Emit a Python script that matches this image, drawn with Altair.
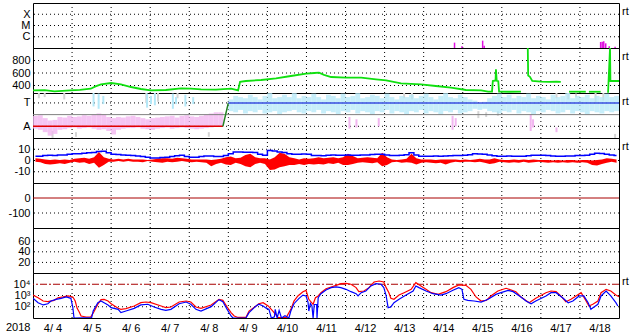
import json
import altair as alt
import pandas as pd

FONT = "Liberation Sans"
W, H = 586, 45
BIN = 0.125  # 3-hour bins, in days since 2018-04-04 00:00

DAY_LABELS = ["4/ 4", "4/ 5", "4/ 6", "4/ 7", "4/ 8", "4/ 9", "4/10", "4/11",
              "4/12", "4/13", "4/14", "4/15", "4/16", "4/17", "4/18"]
DAY_EDGES = list(range(1, 15))
YEAR = "2018"
TAG = "rt"

# ---- panel 1: X-ray class
XRAY_LEVELS = [1e-4, 1e-5, 1e-6]
XRAY_NAMES = ["X", "M", "C"]
XRAY_T = [10.79, 10.98, 11.51, 11.55, 14.53, 14.57, 14.61, 14.66, 14.75, 14.90]
XRAY_F = [3.0e-7, 1.4e-7, 4.5e-7, 1.6e-7, 3.4e-7, 3.6e-7, 4.0e-7, 2.6e-7, 1.4e-7, 1.3e-7]

# ---- panel 2: solar wind speed
SPEED_TICKS = [400, 600, 800]
SPEED_T = [0, 0.3, 0.55, 0.75, 0.95, 1.2, 1.48, 1.6, 1.74, 2.0, 2.25, 2.51, 2.76, 3.02, 3.4,
           3.79, 4.04, 4.3, 4.68, 5.07, 5.2, 5.25, 5.3, 5.45, 5.84, 6.22, 6.6, 6.99, 7.2, 7.32,
           7.45, 7.63, 8.01, 8.4, 8.78, 9.04, 9.42, 9.93, 10.31, 10.7, 11.08, 11.47, 11.65,
           11.75, 11.77, 11.84, 11.85, 11.87, 11.91, 11.93, 12.2, 12.49,
           12.665, 12.675, 12.72, 12.78, 13.0, 13.2, 13.4, 13.51,
           13.72, 14.15,
           14.23, 14.53,
           14.72, 14.77, 14.78, 15.0]
SPEED_V = [323, 325, 307, 315, 323, 330, 349, 385, 419, 440, 419, 376, 344, 323, 328,
           355, 350, 339, 333, 350, 330, 323, 460, 472, 488, 515, 552, 589, 600, 605,
           570, 536, 525, 525, 499, 483, 435, 419, 392, 365, 328, 323, 301,
           301, 472, 480, 659, 475, 470, 301, 300, 301,
           1000, 560, 540, 472, 461, 458, 461, 458,
           301, 301,
           300, 300,
           285, 1000, 472, 472]
SPEED_SEG = [0] * 52 + [1] * 8 + [2] * 2 + [3] * 2 + [4] * 4

# ---- panel 3: IMF sector
SECTOR_LEVELS = [3, 1]
SECTOR_NAMES = ["T", "A"]
MID_LEVEL = [2]
SECTOR_AWAY_T, SECTOR_AWAY_V = [0, 4.86], [1, 1]
SECTOR_TURN_T, SECTOR_TURN_V = [4.86, 5.0], [1, 3]
SECTOR_TOW_T, SECTOR_TOW_V = [5.0, 15], [3, 3]
PINK_LO = [0.80, 0.70, 0.50, 0.20, 0.35, 0.70, 0.75, 0.85, 0.90, 0.80, 0.85, 0.90, 0.80,
           0.70, 0.75, 0.60, 0.30, 0.70, 0.80, 0.85, 0.85, 0.90, 0.80, 0.75, 0.70, 0.80,
           0.85, 0.90, 0.80, 0.85, 0.90, 0.85, 0.80, 0.75, 0.80, 0.85, 0.90, 0.95, 1.00]
PINK_HI = [1.90, 1.95, 1.70, 1.50, 1.55, 1.80, 1.75, 1.90, 1.80, 1.85, 1.95, 1.90, 2.00,
           2.10, 2.00, 1.80, 1.70, 1.80, 1.75, 1.85, 1.90, 1.80, 1.70, 1.60, 1.70, 1.75,
           1.80, 1.85, 1.90, 1.75, 1.90, 1.95, 1.85, 1.80, 1.90, 2.00, 2.10, 2.20, 2.20]
CYAN_FIRST_BIN = 40
CYAN_LO = [2.3, 2.2, 2.4, 2.1, 2.3, 2.2, 2.4, 2.1, 2.2, 2.3, 2.0, 2.2, 2.3, 2.4, 2.2, 2.1,
           2.3, 2.2, 2.4, 2.1, 2.3, 2.2, 2.0, 2.3, 2.2, 2.4, 2.1, 2.3, 2.2, 2.0, 2.3, 2.2,
           2.4, 2.1, 2.3, 2.2, 2.0, 2.3, 2.2, 2.4, 2.1, 2.3, 2.2, 2.0, 2.3, 2.2, 2.4, 2.1,
           2.2, 2.3, 2.5, 2.4, 2.5, 2.3, 2.2, 2.1, 2.3, 2.2, 2.4, 2.1, 2.3, 2.2, 2.0, 2.3,
           2.2, 2.4, 2.3, 2.1, 2.2, 2.4, 2.1, 2.3, 2.2, 2.0, 2.3, 2.2, 2.1, 2.3, 2.2, 2.3]
CYAN_HI = [3.3, 3.6, 3.5, 3.4, 3.7, 3.5, 3.3, 3.6, 3.85, 3.4, 3.5, 3.7, 3.5, 3.85, 3.4, 3.6,
           3.5, 3.8, 3.5, 3.3, 3.7, 3.6, 3.4, 3.8, 3.5, 3.6, 3.85, 3.4, 3.5, 3.7, 3.6, 3.4,
           3.8, 3.5, 3.3, 3.6, 3.5, 3.7, 3.4, 3.6, 3.8, 3.5, 3.3, 3.6, 3.85, 3.5, 3.4, 3.7,
           3.5, 3.3, 3.2, 3.0, 3.1, 3.4, 3.6, 3.8, 3.5, 3.7, 3.4, 3.6, 3.5, 3.8, 3.4, 3.6,
           3.5, 3.3, 3.7, 3.5, 3.6, 3.85, 3.4, 3.6, 3.5, 3.7, 3.4, 3.6, 3.5, 3.8, 3.5, 3.6]
EXTRA_CYAN_T = [1.55, 1.68, 1.80, 2.92, 3.02, 3.12, 3.58, 3.66, 3.90, 4.10]
EXTRA_CYAN_LO = [2.7, 2.5, 2.9, 2.6, 2.9, 2.8, 2.5, 2.9, 2.7, 2.9]
EXTRA_CYAN_HI = [3.85, 3.8, 3.6, 3.8, 3.6, 3.85, 3.8, 3.5, 3.7, 3.5]
EXTRA_PINK_T = [8.10, 8.28, 8.85, 10.74, 10.82, 12.74, 12.80, 13.40]
EXTRA_PINK_LO = [0.8, 0.9, 1.0, 0.7, 1.0, 0.6, 0.9, 0.5]
EXTRA_PINK_HI = [1.8, 1.6, 1.7, 1.9, 1.7, 2.0, 1.6, 0.9]
EXTRA_GRAY_T = [0.15, 0.30, 0.50, 0.80, 1.10, 2.90, 3.20, 3.70, 4.50, 9.50, 9.70, 11.40,
                11.60, 11.90, 13.40, 13.70, 13.90, 14.40, 14.60, 14.90]
EXTRA_GRAY_LO = [3.4, 3.5, 0.0, 3.3, 0.1, 3.0, 3.1, 3.4, 0.1, 3.4, 3.3, 1.7, 1.8, 1.9,
                 3.4, 3.3, 3.5, 3.0, 3.2, 0.0]
EXTRA_GRAY_HI = [3.85, 3.85, 0.6, 3.85, 0.5, 3.85, 3.85, 3.85, 0.5, 3.85, 3.85, 2.3, 2.2,
                 2.3, 3.85, 3.85, 3.8, 3.85, 3.85, 0.35]

# ---- panel 4: IMF Bz (range per 3h) and Bt
BZ_TICKS = [10, 0, -10]
BZ_LO = [-1, -1.5, -3, -3.5, -3, -2.5, -3, -2, -1, -2,
         -1.5, -3, -2, -6.5, -4, -1, -1, -0.5, -1, -0.5,
         -1, -1, -1.5, -0.5, -1, -1.5, -2, -1, -1.5, -1,
         -0.5, -1, -1.5, -1, -1.5, -2, -5, -3, -2, -3.5,
         -4, -2, -3, -5, -6, -3, -2, -3, -8.5, -8,
         -6, -5, -4, -4, -3, -4, -3, -3.5, -3, -3.5,
         -2.5, -3, -2, -4, -4, -3, -2, -1.5, -2, -2.5,
         -1.5, -5, -4, -1.5, -1, -2, -1.5, -2, -3.5, -2,
         -1.5, -2, -2.5, -2, -3.5, -2, -1, -1.5, -1, -1,
         -1.5, -1, -2, -3, -2.5, -1, -1.5, -2, -1.5, -2,
         -1, -2, -1.5, -1, -1.5, -2, -1.5, -2, -1.5, -2,
         -1.5, -2, -1.5, -2, -4, -4.5, -3, -2, -1, -2]
BZ_HI = [2, 1.5, 1, 0.5, 1, 0.5, 1, 0.5, 1.5, 2,
         2.5, 1.5, 3, 7.5, 3, 1.5, 1, 1.5, 1, 1.5,
         1, 1, 1, 0.5, 1, 1.5, 2, 2, 1.5, 2.5,
         2, 1.5, 1, 1, 1, 1, 0.5, 1, 1.5, 3,
         3.5, 2, 2.5, 5, 6, 3, 2, 2, 1, 3,
         7, 6, 3, 2, 1, 2, 1.5, 2, 3, 2,
         2.5, 3, 2, 3, 6, 4, 2, 2.5, 3, 2.5,
         2, 7, 3, 1, 0.5, 1, 1.5, 6, 2, 1,
         1, 1, 0.5, 1, 1, 1, 1, 0.5, 1, 0.5,
         1, 1.5, 1, 1, 2, 1, 0.5, 0.5, 1, 0.5,
         1, 0.5, 1, 0.5, 0.5, 0.5, 0, 0.5, 0, 0.5,
         0.5, 0, 0.5, 0.5, 0, 0.5, 1, 2, 1.5, 1]
BT = [3.8, 3.8, 4.5, 4.7, 4.5, 4.8, 5.0, 5.5, 5.9, 6.0,
      6.5, 6.8, 7.2, 8.0, 8.3, 7.0, 5.5, 5.3, 5.0, 4.6,
      4.4, 4.0, 3.5, 2.8, 2.3, 2.3, 2.6, 2.9, 3.5, 4.2,
      4.7, 3.5, 2.9, 3.0, 3.6, 4.1, 4.0, 3.6, 3.5, 4.5,
      6.0, 7.6, 7.6, 7.4, 7.4, 7.2, 5.5, 4.7, 8.9, 8.5,
      7.6, 7.2, 6.0, 5.6, 5.6, 5.8, 5.6, 4.4, 4.4, 4.2,
      4.6, 4.8, 4.7, 4.7, 4.9, 4.6, 4.7, 4.8, 5.0, 5.4,
      5.6, 5.6, 4.8, 4.4, 4.4, 4.6, 5.2, 6.8, 5.0, 3.8,
      3.8, 3.8, 3.9, 3.8, 4.0, 4.2, 4.4, 4.4, 4.6, 5.2,
      5.9, 5.8, 5.6, 5.0, 4.2, 3.8, 3.8, 3.9, 3.8, 3.8,
      3.8, 4.2, 4.6, 4.7, 4.7, 4.5, 4.0, 3.8, 3.8, 3.9,
      4.0, 4.4, 4.4, 4.6, 5.6, 6.5, 6.3, 5.6, 5.0, 4.4]

# ---- panel 5: Dst
DST_TICKS = [0, -100]
DST_ZERO = [0]
# ---- panel 6: (empty)
P6_TICKS = [20, 40, 60]

# ---- panel 7: electron flux (log10 values)
E_TICKS = [1e2, 1e3, 1e4]
E_TICK_LABELS = ["10\u00b2", "10\u00b3", "10\u2074"]
E_ALERT = [1e4]
E_RED_T = [0, 0.13, 0.26, 0.38, 0.54, 0.64, 0.77, 0.90, 1.02, 1.08, 1.13, 1.18, 1.23, 1.36,
           1.48, 1.56, 1.66, 1.74, 1.82, 1.92, 2.0, 2.18, 2.25, 2.38, 2.59, 2.76, 2.89, 3.02,
           3.28, 3.40, 3.53, 3.74, 3.92, 4.04, 4.17, 4.30, 4.56, 4.76, 4.86, 4.97, 5.07, 5.15,
           5.25, 5.45, 5.53, 5.71, 5.78, 5.89, 6.02, 6.14, 6.27, 6.48, 6.60, 6.68, 6.78, 6.91,
           6.99, 7.06, 7.17, 7.23, 7.30, 7.37, 7.50, 7.63, 7.76, 7.88, 8.01, 8.14, 8.27, 8.34,
           8.47, 8.60, 8.73, 8.86, 8.98, 9.04, 9.11, 9.16, 9.24, 9.37, 9.50, 9.68, 9.80, 9.93,
           10.06, 10.19, 10.37, 10.57, 10.75, 10.90, 11.08, 11.21, 11.34, 11.47, 11.60, 11.72,
           11.90, 12.11, 12.36, 12.49, 12.70, 12.87, 13.13, 13.26, 13.39, 13.51, 13.64, 13.77,
           13.90, 14.03, 14.15, 14.23, 14.33, 14.46, 14.54, 14.67, 14.79, 14.92, 15.0]
E_RED_LOG = [3.04, 2.8, 2.51, 2.45, 2.57, 2.8, 2.87, 2.96, 2.87, 2.51, 1.86, 1.56, 1.18, 1.09,
             1.1, 1.56, 2.22, 2.63, 2.66, 2.51, 2.27, 1.86, 1.77, 1.83, 2.07, 2.36, 2.42, 2.36,
             2.07, 1.92, 1.98, 2.42, 2.51, 2.42, 1.98, 1.86, 2.16, 2.66, 2.57, 1.98, 1.48, 1.18,
             1.05, 1.05, 1.62, 2.07, 2.27, 2.36, 2.07, 1.62, 1.05, 1.03, 1.77, 2.51, 2.96, 3.34,
             3.46, 2.66, 2.22, 2.8, 2.96, 3.25, 3.6, 3.76, 3.9, 4.05, 4.08, 4.0, 3.7, 3.34,
             3.4, 3.7, 4.2, 4.29, 4.2, 3.7, 3.25, 2.75, 2.66, 3.04, 3.25, 3.55, 4.14, 3.85,
             3.55, 3.25, 3.1, 3.34, 3.7, 3.94, 3.9, 3.55, 2.87, 2.51, 2.57, 2.96,
             3.4, 3.64, 3.34, 2.87, 2.36, 2.75, 3.25, 3.4, 3.34, 2.96, 2.45, 2.66,
             2.96, 3.25, 2.57, 2.07, 2.22, 2.51, 3.25, 3.55, 3.4, 3.04, 2.9]
E_BLUE_T = [0, 0.13, 0.26, 0.38, 0.46, 0.59, 0.72, 0.85, 0.97, 1.02, 1.05, 1.3, 1.5, 1.54,
            1.66, 1.74, 1.82, 1.92, 2.0, 2.18, 2.25, 2.38, 2.59, 2.76, 2.94, 3.1, 3.28, 3.40,
            3.53, 3.74, 3.92, 4.04, 4.17, 4.30, 4.56, 4.76, 4.86, 4.97, 5.07, 5.12, 5.45, 5.53,
            5.71, 5.78, 5.89, 5.96, 6.04, 6.10, 6.18, 6.20, 6.25, 6.30, 6.36, 6.45, 6.55, 6.60,
            6.68, 6.81, 6.91, 6.99, 7.04, 7.06, 7.10, 7.14, 7.17, 7.20, 7.26, 7.27, 7.30, 7.37,
            7.50, 7.63, 7.76, 7.88, 8.01, 8.14, 8.27, 8.32, 8.40, 8.52, 8.65, 8.78, 8.91, 8.98,
            9.04, 9.09, 9.16, 9.24, 9.37, 9.55, 9.73, 9.80, 9.88, 10.06, 10.24, 10.44, 10.57,
            10.75, 10.90, 10.98, 11.03, 11.13, 11.29, 11.47, 11.65, 11.85, 11.98, 12.16, 12.29,
            12.49, 12.62, 12.75, 12.87, 13.13, 13.26, 13.39, 13.57, 13.70, 13.82, 13.98, 14.10,
            14.21, 14.28, 14.36, 14.46, 14.54, 14.67, 14.79, 14.92, 14.97]
E_BLUE_LOG = [2.75, 2.36, 2.16, 2.27, 2.51, 2.66, 2.75, 2.87, 2.75, 1.92, 1.0, 1.02, 1.02, 1.62,
              2.36, 2.51, 2.36, 2.16, 1.92, 1.77, 1.48, 1.62, 1.86, 2.16, 2.22, 1.98, 1.77, 1.68,
              1.77, 2.27, 2.42, 2.22, 1.77, 1.62, 2.01, 2.63, 2.45, 1.77, 1.18, 1.0, 1.0, 1.48,
              2.07, 2.22, 2.07, 1.9, 1.77, 1.0, 1.1, 1.77, 1.0, 1.68, 1.0, 1.2, 1.0, 1.62,
              2.27, 2.75, 3.04, 2.96, 2.4, 1.62, 2.3, 2.07, 1.0, 2.2, 2.2, 1.0, 2.8, 3.16,
              3.49, 3.7, 3.76, 3.7, 3.55, 3.34, 3.16, 2.96, 3.25, 3.4, 3.85, 4.05, 4.0, 3.7,
              2.96, 1.92, 1.98, 2.36, 2.66, 3.04, 3.4, 3.85, 3.7, 3.4, 3.16, 3.04, 3.16,
              3.46, 3.7, 3.55, 2.66, 2.57, 2.51, 2.42, 2.66, 3.1, 3.25, 3.46, 3.34,
              2.87, 2.51, 2.27, 2.51, 2.96, 3.25, 3.25, 2.75, 2.36, 2.51, 2.96, 2.96,
              2.36, 1.77, 1.98, 2.22, 2.96, 3.4, 2.96, 2.36, 2.07]

# ---------------- colours
GREEN = "#10e010"
MAGENTA = "#e010e0"
RED = "#ff0000"
BLUE = "#0000ff"
DARKRED = "#a80000"
PINK = "#f2b6f0"
CYAN = "#b4e8f8"
LGRAY = "#d4d4d4"
FS = 11

xs = alt.Scale(domain=[0, 15], nice=False, zero=False)


def X(axis=None):
    return alt.X("t:Q", scale=xs, axis=axis)


def vgrid(xaxis=None):
    return alt.Chart(pd.DataFrame({"t": DAY_EDGES})).mark_rule(
        color="black", strokeDash=[1, 3], strokeWidth=1).encode(x=X(xaxis))


def hrule(vals, ysc, axis, dash=(1, 3), color="black"):
    m = dict(color=color, strokeWidth=1)
    if dash:
        m["strokeDash"] = list(dash)
    return alt.Chart(pd.DataFrame({"v": vals})).mark_rule(**m).encode(
        y=alt.Y("v:Q", scale=ysc, axis=axis))


def tag():
    return alt.Chart(pd.DataFrame({"s": [TAG]})).mark_text(
        align="left", baseline="middle", fontSize=FS, font=FONT, color="black").encode(
        x=alt.value(589), y=alt.value(9), text="s:N")


def yaxis(values, expr=None):
    kw = dict(values=values, title=None)
    if expr:
        kw["labelExpr"] = expr
    return alt.Axis(**kw)


def bins(first, n):
    return [(first + i + 0.5) * BIN for i in range(n)]


# panel 1
ys1 = alt.Scale(type="log", domain=[1e-7, 1e-3], nice=False)
ax1 = yaxis(XRAY_LEVELS, f"{json.dumps(XRAY_NAMES)}[-4 - round(log(datum.value) / LN10)]")
xray = pd.DataFrame({"t": XRAY_T, "f": XRAY_F, "base": [1e-7] * len(XRAY_T)})
p1 = alt.layer(
    vgrid(),
    hrule(XRAY_LEVELS, ys1, ax1),
    alt.Chart(xray).mark_rule(color=MAGENTA, strokeWidth=1.5, clip=True).encode(
        x=X(), y=alt.Y("f:Q", scale=ys1, axis=ax1), y2="base:Q"),
    tag(),
).properties(width=W, height=H)

# panel 2
ys2 = alt.Scale(domain=[280, 1000], nice=False, zero=False)
ax2 = yaxis(SPEED_TICKS)
speed = pd.DataFrame({"t": SPEED_T, "v": SPEED_V, "seg": SPEED_SEG})
p2 = alt.layer(
    vgrid(),
    hrule(SPEED_TICKS, ys2, ax2),
    alt.Chart(speed).mark_line(color=GREEN, strokeWidth=1.8, clip=True).encode(
        x=X(), y=alt.Y("v:Q", scale=ys2, axis=ax2), detail="seg:N"),
    tag(),
).properties(width=W, height=H)

# panel 3
ys3 = alt.Scale(domain=[0, 3.85], nice=False, zero=False)
ax3 = yaxis(SECTOR_LEVELS,
            f"datum.value == {SECTOR_LEVELS[0]} ? '{SECTOR_NAMES[0]}' : '{SECTOR_NAMES[1]}'")


def cloud(t, lo, hi, color, width, opacity=1.0):
    df = pd.DataFrame({"t": t, "lo": lo, "hi": hi})
    return alt.Chart(df).mark_rule(color=color, strokeWidth=width, opacity=opacity,
                                   clip=True).encode(
        x=X(), y=alt.Y("lo:Q", scale=ys3, axis=ax3), y2="hi:Q")


def sector(t, v, color):
    return alt.Chart(pd.DataFrame({"t": t, "v": v})).mark_line(
        color=color, strokeWidth=1.5).encode(x=X(), y=alt.Y("v:Q", scale=ys3, axis=ax3))


p3 = alt.layer(
    vgrid(),
    hrule(SECTOR_LEVELS, ys3, ax3),
    cloud(EXTRA_GRAY_T, EXTRA_GRAY_LO, EXTRA_GRAY_HI, LGRAY, 2),
    cloud(bins(0, len(PINK_LO)), PINK_LO, PINK_HI, PINK, 4.9, 0.8),
    cloud(bins(CYAN_FIRST_BIN, len(CYAN_LO)), CYAN_LO, CYAN_HI, CYAN, 4.9, 0.75),
    cloud(EXTRA_CYAN_T, EXTRA_CYAN_LO, EXTRA_CYAN_HI, CYAN, 2),
    cloud(EXTRA_PINK_T, EXTRA_PINK_LO, EXTRA_PINK_HI, PINK, 2),
    hrule(MID_LEVEL, ys3, ax3, dash=None, color="#808080"),
    sector(SECTOR_AWAY_T, SECTOR_AWAY_V, "#e00000"),
    sector(SECTOR_TURN_T, SECTOR_TURN_V, "#208020"),
    sector(SECTOR_TOW_T, SECTOR_TOW_V, "#3a4ee0"),
    tag(),
).properties(width=W, height=H)

# panel 4
ys4 = alt.Scale(domain=[-20, 20], nice=False, zero=False)
ax4 = yaxis(BZ_TICKS, "toString(datum.value)")
bz = pd.DataFrame({"t": bins(0, len(BZ_LO)), "lo": BZ_LO, "hi": BZ_HI, "bt": BT})
p4 = alt.layer(
    vgrid(),
    hrule(BZ_TICKS, ys4, ax4),
    alt.Chart(bz).mark_area(color=RED, interpolate="linear", clip=True).encode(
        x=X(), y=alt.Y("lo:Q", scale=ys4, axis=ax4), y2="hi:Q"),
    alt.Chart(bz).mark_line(color=BLUE, strokeWidth=1.5, interpolate="step", clip=True).encode(
        x=X(), y=alt.Y("bt:Q", scale=ys4, axis=ax4)),
    tag(),
).properties(width=W, height=H)

# panel 5
ys5 = alt.Scale(domain=[-200, 100], nice=False, zero=False)
ax5 = yaxis(DST_TICKS, "toString(datum.value)")
p5 = alt.layer(
    vgrid(),
    hrule([DST_TICKS[1]], ys5, ax5),
    hrule(DST_ZERO, ys5, ax5, dash=None, color=DARKRED),
).properties(width=W, height=H)

# panel 6
ys6 = alt.Scale(domain=[0, 85], nice=False, zero=False)
p6 = alt.layer(
    vgrid(),
    hrule(P6_TICKS, ys6, yaxis(P6_TICKS)),
).properties(width=W, height=H)

# panel 7
ys7 = alt.Scale(type="log", domain=[10, 1e5], nice=False)
ax7 = yaxis(E_TICKS, f"{json.dumps(E_TICK_LABELS)}[round(log(datum.value) / LN10) - 2]")
ered = pd.DataFrame({"t": E_RED_T, "f": [10 ** v for v in E_RED_LOG]})
eblue = pd.DataFrame({"t": E_BLUE_T, "f": [10 ** v for v in E_BLUE_LOG]})
xaxis = alt.Axis(values=[i + 0.5 for i in range(len(DAY_LABELS))],
                 labelExpr=f"{json.dumps(DAY_LABELS)}[floor(datum.value)]",
                 ticks=False, domain=False, grid=False, labelPadding=4, title=None,
                 labelFontSize=FS, labelOverlap=False, labelFlush=False)
p7 = alt.layer(
    vgrid(xaxis),
    hrule(E_TICKS[:2], ys7, ax7),
    hrule(E_ALERT, ys7, ax7, dash=(7, 2, 2, 2), color=DARKRED),
    alt.Chart(ered).mark_line(color=RED, strokeWidth=1.2, clip=True).encode(
        x=X(xaxis), y=alt.Y("f:Q", scale=ys7, axis=ax7)),
    alt.Chart(eblue).mark_line(color=BLUE, strokeWidth=1.2, clip=True).encode(
        x=X(xaxis), y=alt.Y("f:Q", scale=ys7, axis=ax7)),
    alt.Chart(pd.DataFrame({"s": [YEAR]})).mark_text(
        align="left", baseline="alphabetic", fontSize=FS, font=FONT, color="black").encode(
        x=alt.value(-27), y=alt.value(58), text="s:N"),
    tag(),
).properties(width=W, height=H)

chart = alt.vconcat(p1, p2, p3, p4, p5, p6, p7, spacing=0, bounds="flush").properties(
    padding={"left": 5, "top": 2, "right": 0, "bottom": 0},
    background="white",
).configure_view(stroke="black", strokeWidth=1).configure_axis(
    labelFont=FONT, labelFontSize=FS, labelColor="black", ticks=False, domain=False,
    grid=False, labelPadding=3, minExtent=27, maxExtent=27, labelOverlap=False,
    labelFlush=False,
).configure_concat(spacing=0)

chart.save("out.html", embed_options={"renderer": "svg", "actions": False})
